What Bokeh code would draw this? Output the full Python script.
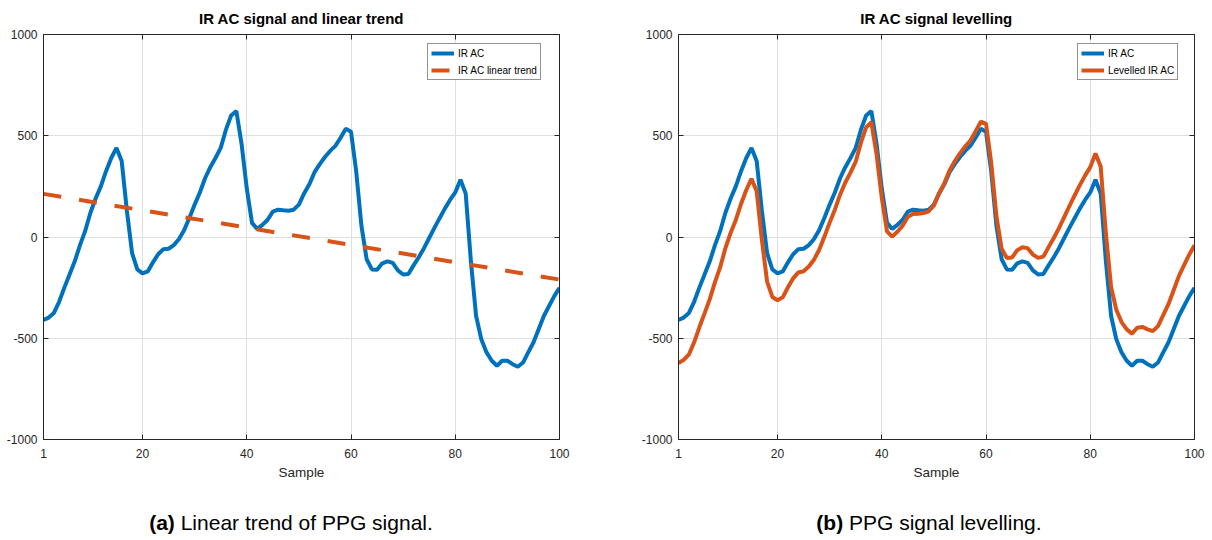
from bokeh.plotting import figure
from bokeh.models import (Range1d, FixedTicker, LinearAxis, CustomJSTickFormatter,
                          PrintfTickFormatter, Legend, LegendItem, Div)
from bokeh.layouts import row, column
from bokeh.embed import file_html
from bokeh.resources import INLINE

# ---------------- data ----------------
samples = list(range(1, 101))

ir_ac = [-410, -398, -375, -320, -250, -185, -120, -40, 30, 120,
         190, 250, 325, 390, 440, 375, 130, -80, -160, -180,
         -170, -125, -85, -60, -58, -40, -10, 35, 95, 160,
         220, 290, 345, 390, 440, 530, 600, 622, 460, 240,
         70, 40, 60, 85, 125, 135, 132, 130, 135, 160,
         215, 260, 320, 360, 395, 425, 450, 490, 535, 520,
         323, 55, -110, -160, -162, -130, -120, -128, -165, -185,
         -183, -140, -100, -55, -5, 45, 93, 140, 183, 220,
         283, 215, -120, -390, -505, -570, -611, -636, -611, -611,
         -628, -641, -620, -570, -521, -456, -390, -341, -292, -251]

levelled_ir_ac = [-623, -607, -580, -520, -446, -377, -307, -223, -149, -55,
                  20, 84, 163, 232, 287, 226, -15, -220, -296, -312,
                  -298, -248, -204, -175, -169, -146, -112, -63, 2, 71,
                  135, 209, 269, 318, 372, 466, 541, 567, 409, 194,
                  28, 2, 26, 56, 100, 114, 115, 118, 127, 156,
                  216, 265, 329, 374, 413, 447, 476, 521, 570, 559,
                  366, 103, -58, -104, -101, -65, -51, -55, -87, -103,
                  -97, -50, -5, 44, 98, 153, 205, 256, 303, 345,
                  412, 348, 17, -248, -359, -420, -456, -477, -448, -444,
                  -456, -465, -440, -386, -332, -263, -193, -139, -86, -41]

trend_x = [1, 100]
trend_y = [213, -210]

x_ticks = [1, 20, 40, 60, 80, 100]
y_ticks = [-1000, -500, 0, 500, 1000]

titles = ["IR AC signal and linear trend", "IR AC signal levelling"]
x_label = "Sample"
legend_a = ["IR AC", "IR AC linear trend"]
legend_b = ["IR AC", "Levelled IR AC"]
caption_a = ("(a)", "Linear trend of PPG signal.")
caption_b = ("(b)", "PPG signal levelling.")

# ---------------- style ----------------
BLUE = "#0072BD"
ORANGE = "#D95319"
AXC = "#262626"
GRID = "#dfdfdf"
FONT = "Liberation Sans"


def make_fig(title, width, left, right):
    p = figure(width=width, height=484,
               x_range=Range1d(1, 100), y_range=Range1d(-1000, 1000),
               output_backend="svg", toolbar_location=None,
               min_border_left=left, min_border_right=right,
               min_border_top=33, min_border_bottom=45,
               background_fill_color="white", border_fill_color="white")
    p.outline_line_color = None
    p.title.text = title
    p.title.align = "center"
    p.title.text_font = FONT
    p.title.text_font_size = "15px"
    p.title.text_font_style = "bold"
    p.title.text_color = "#000000"
    p.title.text_line_height = 0.6
    p.title.standoff = 15

    p.xaxis.axis_label = x_label
    for ax in p.xaxis + p.yaxis:
        ax.axis_line_color = AXC
        ax.major_tick_line_color = AXC
        ax.major_tick_in = 5
        ax.major_tick_out = 0
        ax.minor_tick_line_color = None
        ax.major_label_text_font = FONT
        ax.major_label_text_font_size = "12px"
        ax.major_label_text_color = AXC
        ax.axis_label_text_font = FONT
        ax.axis_label_text_font_size = "13.5px"
        ax.axis_label_text_font_style = "normal"
        ax.axis_label_text_color = AXC
        ax.formatter = PrintfTickFormatter(format="%d")
    p.xaxis.ticker = FixedTicker(ticks=x_ticks)
    p.yaxis.ticker = FixedTicker(ticks=y_ticks)
    p.xaxis.major_label_standoff = 9
    p.xaxis.axis_label_standoff = 4
    p.yaxis.major_label_standoff = 6

    # box axes (top / right) with inward ticks, no labels
    top = LinearAxis(ticker=FixedTicker(ticks=x_ticks),
                     formatter=CustomJSTickFormatter(code="return ''"))
    rgt = LinearAxis(ticker=FixedTicker(ticks=y_ticks),
                     formatter=CustomJSTickFormatter(code="return ''"))
    for ax in (top, rgt):
        ax.axis_line_color = AXC
        ax.major_tick_line_color = AXC
        ax.major_tick_in = 5
        ax.major_tick_out = 0
        ax.minor_tick_line_color = None
        ax.major_label_standoff = 0
        ax.major_label_text_font_size = "1px"
    p.add_layout(top, "above")
    p.add_layout(rgt, "right")

    p.xgrid.ticker = FixedTicker(ticks=x_ticks)
    p.ygrid.ticker = FixedTicker(ticks=y_ticks)
    for g in (p.xgrid, p.ygrid):
        g.grid_line_color = GRID
        g.grid_line_width = 1
    return p


def make_legend(items, x, y):
    lg = Legend(items=items, location=(x, y))
    lg.label_text_font = FONT
    lg.label_text_font_size = "10px"
    lg.label_text_color = "#000000"
    lg.glyph_width = 23
    lg.glyph_height = 12
    lg.label_height = 12
    lg.label_standoff = 4
    lg.spacing = 5
    lg.padding = 3
    lg.margin = 0
    lg.border_line_color = AXC
    lg.border_line_width = 1
    lg.background_fill_color = "white"
    lg.background_fill_alpha = 1
    return lg


# ---------------- panel (a) ----------------
pa = make_fig(titles[0], 630, 43, 71)
ra1 = pa.line(samples, ir_ac, line_color=BLUE, line_width=4)
ra2 = pa.line(trend_x, trend_y, line_color=ORANGE, line_width=4, line_dash="18 18")
pa.add_layout(make_legend([LegendItem(label=legend_a[0], renderers=[ra1]),
                           LegendItem(label=legend_a[1], renderers=[ra2])], 384, 359))

# ---------------- panel (b) ----------------
pb = make_fig(titles[1], 580, 48, 16)
rb1 = pb.line(samples, ir_ac, line_color=BLUE, line_width=4)
rb2 = pb.line(samples, levelled_ir_ac, line_color=ORANGE, line_width=4)
pb.add_layout(make_legend([LegendItem(label=legend_b[0], renderers=[rb1]),
                           LegendItem(label=legend_b[1], renderers=[rb2])], 399, 359))


def caption(parts, shift, width):
    html = ('<div style="margin-left:%dpx;width:500px;text-align:center;margin-top:28px;'
            'line-height:21px;font-family:\'Liberation Sans\';font-size:21px;color:#000;'
            'white-space:nowrap;"><b>%s</b> %s</div>' % (shift, parts[0], parts[1]))
    return Div(text=html, width=width, height=52, margin=0)


cap_a = caption(caption_a, 41, 630)
cap_b = caption(caption_b, 49, 580)

layout = column(row(pa, pb), row(cap_a, cap_b))

with open("out.html", "w") as f:
    f.write(file_html(layout, INLINE))
